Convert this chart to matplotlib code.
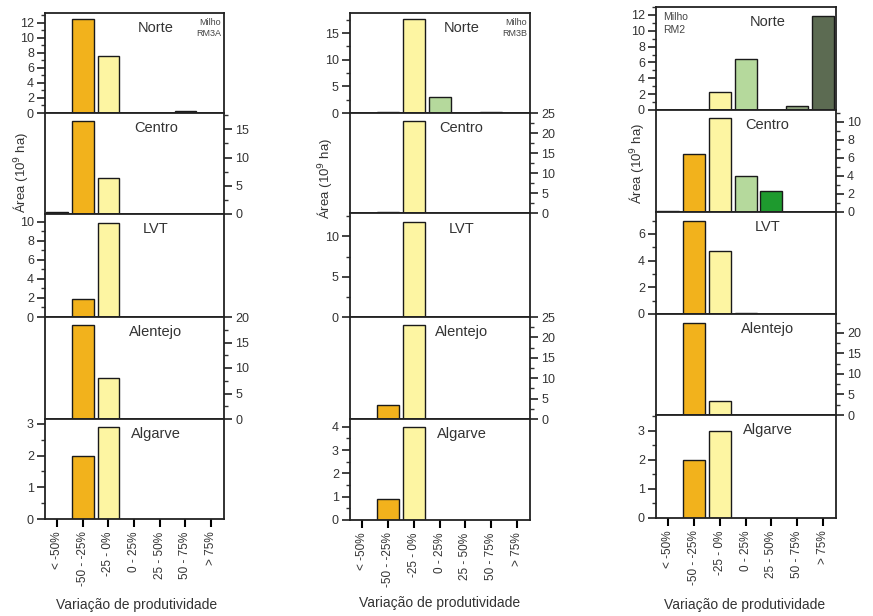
import matplotlib
matplotlib.use("Agg")
import matplotlib.pyplot as plt
from matplotlib.ticker import MultipleLocator

plt.rcParams["font.family"] = ["Liberation Sans", "DejaVu Sans"]

classes = ["< -50%", "-50 - -25%", "-25 - 0%", "0 - 25%", "25 - 50%", "50 - 75%", "> 75%"]
class_colors = ["#b0402a", "#f2b21c", "#fdf5a2", "#b5d99c", "#1e9a2e", "#8fa47e", "#5c6b52"]
regions = ["Norte", "Centro", "LVT", "Alentejo", "Algarve"]

# area (10^9 ha) per productivity class, one list per region
rm3a_norte = [0, 12.5, 7.6, 0, 0, 0.3, 0]
rm3a_centro = [0.3, 16.4, 6.3, 0, 0, 0, 0]
rm3a_lvt = [0, 1.9, 9.9, 0, 0, 0, 0]
rm3a_alentejo = [0, 18.4, 8.0, 0, 0, 0, 0]
rm3a_algarve = [0, 2.0, 2.9, 0, 0, 0, 0]

rm3b_norte = [0, 0.2, 17.6, 3.0, 0, 0.2, 0]
rm3b_centro = [0, 0.3, 23.0, 0, 0, 0, 0]
rm3b_lvt = [0, 0, 11.75, 0, 0, 0, 0]
rm3b_alentejo = [0, 3.4, 23.0, 0, 0, 0, 0]
rm3b_algarve = [0, 0.9, 4.0, 0, 0, 0, 0]

rm2_norte = [0.05, 0, 2.3, 6.45, 0, 0.5, 11.9]
rm2_centro = [0.1, 6.4, 10.4, 4.0, 2.3, 0, 0]
rm2_lvt = [0, 7.0, 4.7, 0.1, 0, 0, 0]
rm2_alentejo = [0, 22.4, 3.4, 0, 0, 0, 0]
rm2_algarve = [0, 2.0, 3.0, 0, 0, 0, 0]

W, H = 873, 616
fig = plt.figure(figsize=(W / 100, H / 100), dpi=100)

columns = [
    dict(name="Milho\nRM3A", data=[rm3a_norte, rm3a_centro, rm3a_lvt, rm3a_alentejo, rm3a_algarve],
         left=45, right=224, edges=[13, 113, 214, 317, 419, 519],
         ylims=[13.3, 17.9, 10.8, 20, 3.15],
         ticks=[(2, 1), (5, 2.5), (2, 1), (5, 2.5), (1, 0.5)],
         tag_xy=(0.985, 0.95), tag_ha="right", tag_fs=6.5,
         ylab_xy=(20, 172), xlab_xy=(137, 605)),
    dict(name="Milho\nRM3B", data=[rm3b_norte, rm3b_centro, rm3b_lvt, rm3b_alentejo, rm3b_algarve],
         left=350, right=530, edges=[13, 113, 213, 317, 419, 520],
         ylims=[18.75, 25, 12.9, 25, 4.33],
         ticks=[(5, 2.5), (5, 2.5), (5, 2.5), (5, 2.5), (1, 0.5)],
         tag_xy=(0.985, 0.95), tag_ha="right", tag_fs=6.5,
         ylab_xy=(325, 178), xlab_xy=(440, 603)),
    dict(name="Milho\nRM2", data=[rm2_norte, rm2_centro, rm2_lvt, rm2_alentejo, rm2_algarve],
         left=656, right=836, edges=[7, 110, 212, 314, 415, 518],
         ylims=[13.0, 11.3, 7.65, 24.6, 3.55],
         ticks=[(2, 1), (2, 1), (2, 1), (5, 2.5), (1, 0.5)],
         tag_xy=(0.04, 0.95), tag_ha="left", tag_fs=7.5,
         ylab_xy=(636, 163), xlab_xy=(745, 605)),
]

x = list(range(len(classes)))

for col in columns:
    for i, region in enumerate(regions):
        top, bot = col["edges"][i], col["edges"][i + 1]
        ax = fig.add_axes([col["left"] / W, 1 - bot / H,
                           (col["right"] - col["left"]) / W, (bot - top) / H])
        vals = col["data"][i]
        for k in x:
            if vals[k] > 0:
                ax.bar(k, vals[k], width=0.85, color=class_colors[k],
                       edgecolor="#1a1a1a", linewidth=1.0)
        ax.set_xlim(-0.47, 6.5)
        ax.set_ylim(0, col["ylims"][i])
        major, minor = col["ticks"][i]
        ax.yaxis.set_major_locator(MultipleLocator(major))
        ax.yaxis.set_minor_locator(MultipleLocator(minor))
        if i % 2 == 1:
            ax.yaxis.tick_right()
        else:
            ax.yaxis.tick_left()
        ax.tick_params(axis="y", which="major", direction="out", length=6, width=1.3,
                       labelsize=9, colors="#333333", pad=2)
        ax.tick_params(axis="y", which="minor", direction="out", length=3, width=1.0,
                       colors="#333333")
        for s in ax.spines.values():
            s.set_linewidth(1.3)
            s.set_color("#222222")
        ax.set_xticks(x)
        if i == len(regions) - 1:
            ax.set_xticklabels(classes, rotation=90, fontsize=8.5, color="#333333")
            ax.tick_params(axis="x", direction="out", length=6, width=1.5, pad=3)
        else:
            ax.set_xticklabels([])
            ax.tick_params(axis="x", length=0)
        ax.text(0.62, 0.85, region, transform=ax.transAxes, ha="center", va="center",
                fontsize=10.5, color="#333333")
        if i == 0:
            ax.text(col["tag_xy"][0], col["tag_xy"][1], col["name"], transform=ax.transAxes,
                    ha=col["tag_ha"], va="top", fontsize=col["tag_fs"], color="#444444",
                    linespacing=1.3)

    fig.text(col["ylab_xy"][0] / W, 1 - col["ylab_xy"][1] / H, "Área (10$^9$ ha)",
             rotation=90, ha="center", va="center", fontsize=9.5, color="#333333")
    fig.text(col["xlab_xy"][0] / W, 1 - col["xlab_xy"][1] / H, "Variação de produtividade",
             ha="center", va="center", fontsize=10, color="#333333")

fig.savefig("out.png", dpi=100)
